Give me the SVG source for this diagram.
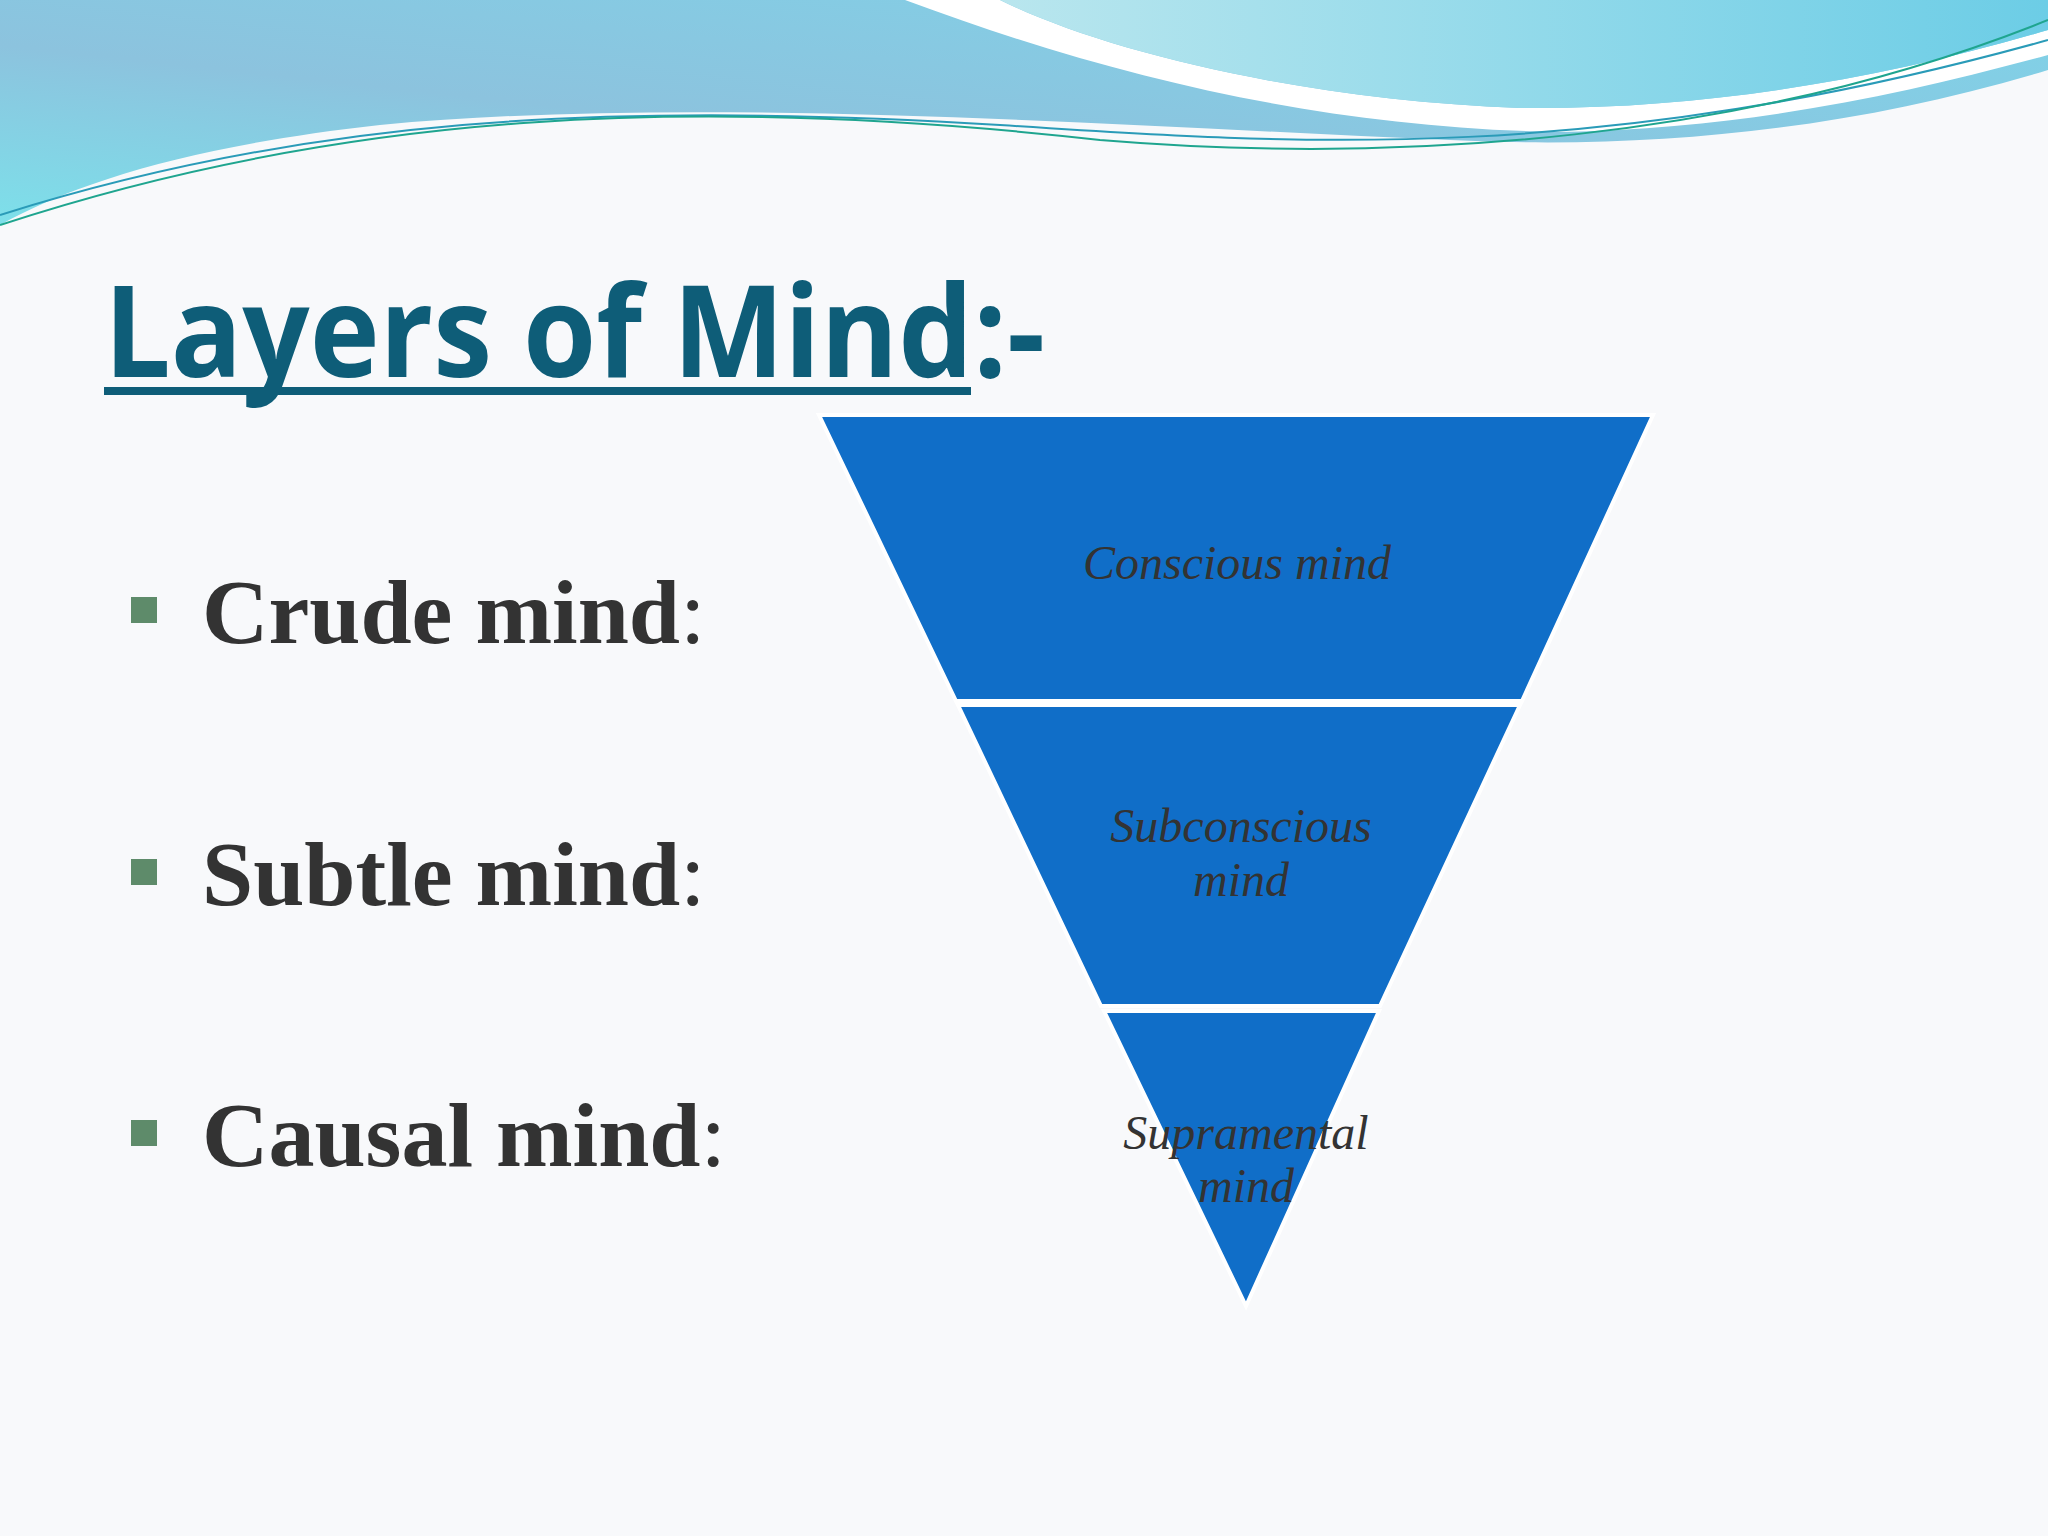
<svg xmlns="http://www.w3.org/2000/svg" width="2048" height="1536" viewBox="0 0 2048 1536">
<defs>
<linearGradient id="gTop" x1="0" y1="1" x2="1" y2="0">
<stop offset="0" stop-color="#7de0ea"/><stop offset="0.4" stop-color="#8cc3de"/><stop offset="1" stop-color="#7fd3e8"/>
</linearGradient>
<linearGradient id="gRight" x1="0" y1="0" x2="1" y2="0">
<stop offset="0" stop-color="#b9e6ee"/><stop offset="1" stop-color="#6ccde6"/>
</linearGradient>
</defs>
<style>
.seg{fill:#106ec8;stroke:#ffffff;stroke-width:4}
.lbl{font-family:"Liberation Serif",serif;font-style:italic;font-size:48px;fill:#333333;text-anchor:middle}
.item{font-family:"Liberation Serif",serif;font-weight:bold;font-size:92px;fill:#333333}
.bul{fill:#5e8b6a}
</style>
<rect width="2048" height="1536" fill="#f8f9fb"/>
<g id="header">
<path d="M0,0 H2048 V70 C1850,130 1650,150 1450,140 C1100,125 700,95 380,125 C200,145 80,180 0,225 Z" fill="url(#gTop)"/>
<path d="M905,0 C1120,80 1330,128 1560,132 C1750,128 1900,95 2048,55 V30 C1880,80 1700,110 1520,108 C1300,100 1100,50 1000,0 Z" fill="#ffffff"/>
<path d="M1000,0 C1100,50 1300,100 1520,108 C1700,110 1880,80 2048,30 V0 Z" fill="url(#gRight)"/>
<path d="M0,215 C300,120 600,100 1000,125 C1300,145 1600,165 2048,40" fill="none" stroke="#2a9bb8" stroke-width="2"/>
<path d="M0,225 C350,110 700,95 1100,140 C1400,165 1750,140 2048,20" fill="none" stroke="#1fa58f" stroke-width="2"/>
</g>
<g id="title">
<text x="104" y="377" font-family="'Open Sans','Liberation Sans',sans-serif" font-weight="bold" font-size="128" fill="#0e5d78" textLength="941" lengthAdjust="spacingAndGlyphs">Layers of Mind:-</text>
<rect x="104" y="387" width="867" height="8" fill="#0e5d78"/>
</g>
<g id="list">
<rect class="bul" x="131" y="597" width="26" height="26"/>
<text class="item" x="202" y="643">Crude mind<tspan font-weight="normal">:</tspan></text>
<rect class="bul" x="131" y="859" width="26" height="26"/>
<text class="item" x="202" y="905">Subtle mind<tspan font-weight="normal">:</tspan></text>
<rect class="bul" x="131" y="1120" width="26" height="26"/>
<text class="item" x="202" y="1166">Causal mind<tspan font-weight="normal">:</tspan></text>
</g>
<g id="conscious">
<polygon class="seg" points="819,415 1653,415 1522,701 956,701"/>
<text class="lbl" x="1237" y="579">Conscious mind</text>
</g>
<g id="subconscious">
<polygon class="seg" points="958,705 1520,705 1380,1006 1101,1006"/>
<text class="lbl" x="1241" y="842">Subconscious</text>
<text class="lbl" x="1241" y="896">mind</text>
</g>
<g id="supramental">
<polygon class="seg" points="1104,1011 1379,1011 1246,1306"/>
<text class="lbl" x="1246" y="1149">Supramental</text>
<text class="lbl" x="1246" y="1202">mind</text>
</g>
<g id="connectors"/>
</svg>
